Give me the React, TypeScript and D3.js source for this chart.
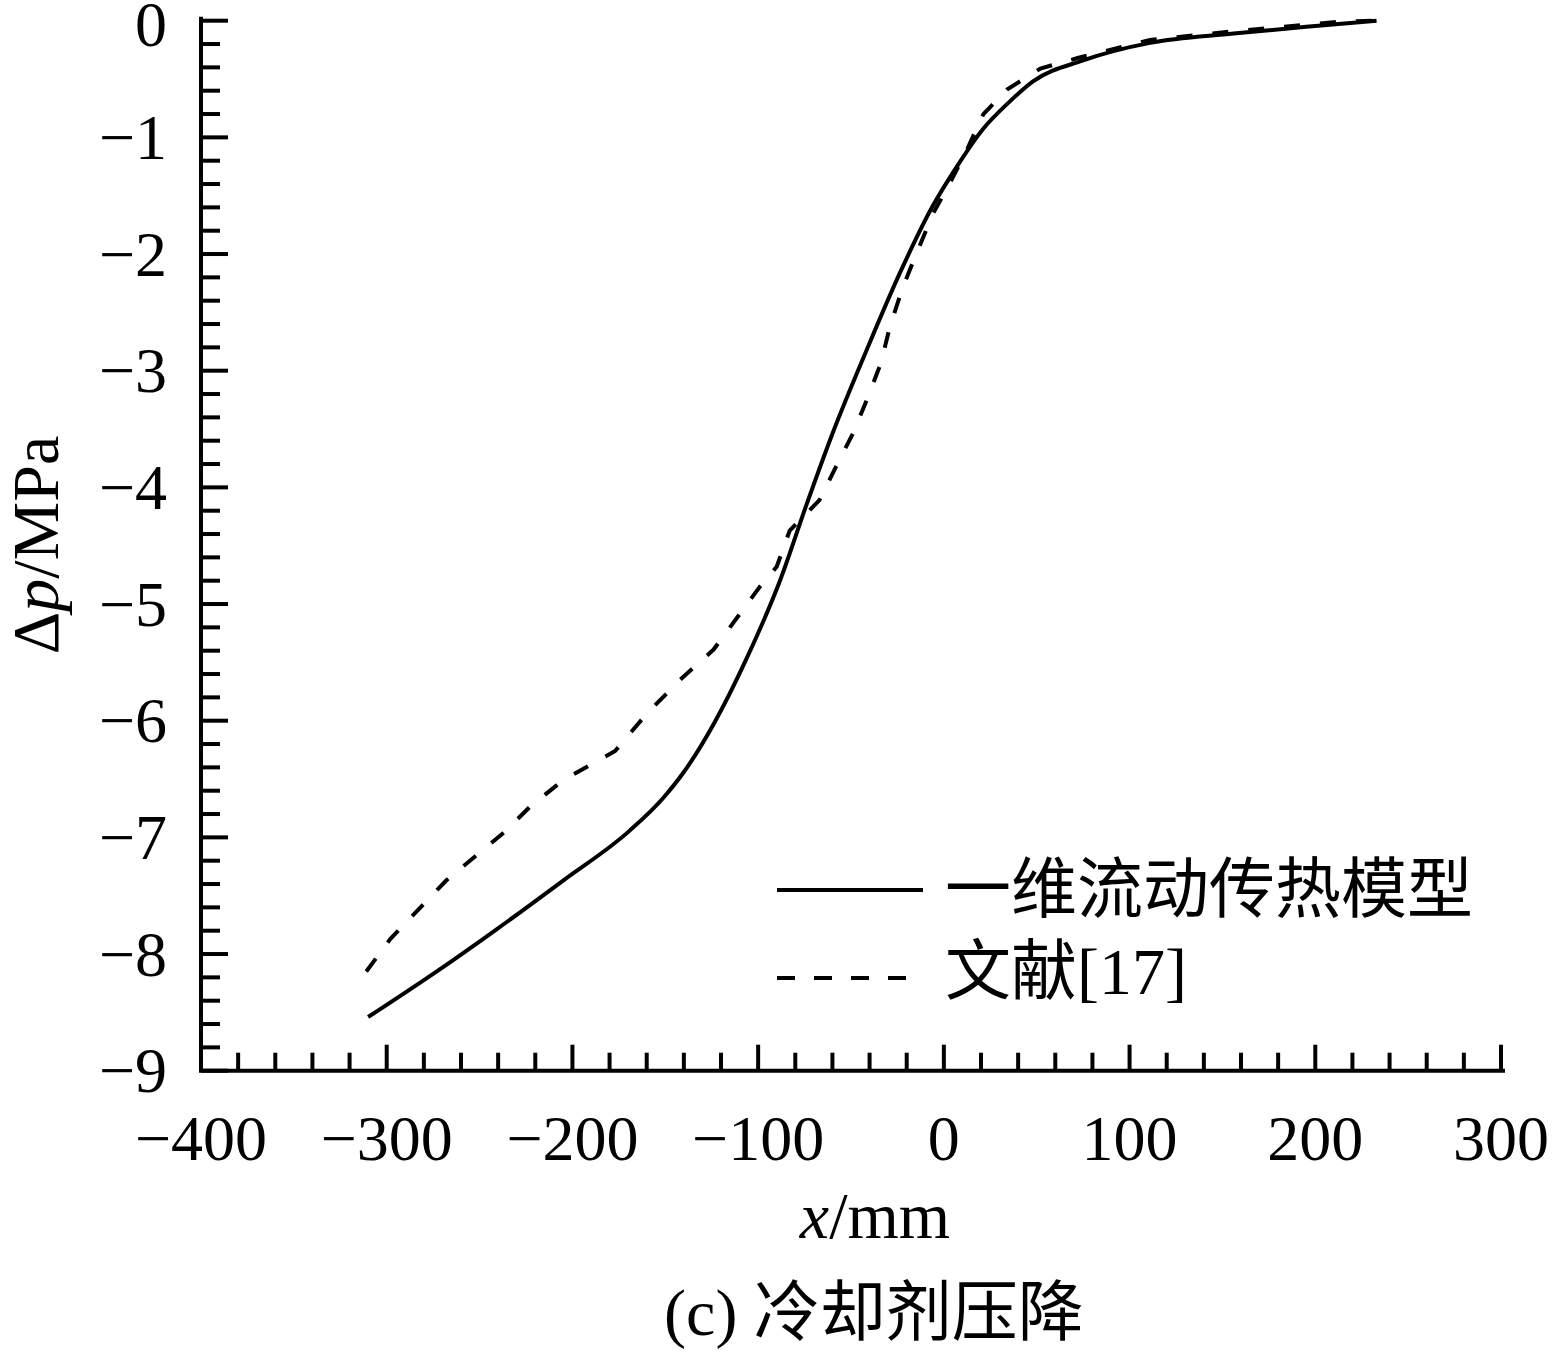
import React from "react";
import * as d3 from "d3";

// model curve (一维流动传热模型)
const modelX = [-310, -275, -241, -205, -169, -151, -140, -124, -106, -88, -74, -60, -41.5, -23.6, -5.7, 5, 21, 35, 48, 75, 111, 156, 200, 233];
const modelY = [-8.54, -8.17, -7.79, -7.37, -6.94, -6.66, -6.44, -6.03, -5.46, -4.79, -4.15, -3.54, -2.82, -2.16, -1.58, -1.3, -0.93, -0.7, -0.52, -0.34, -0.19, -0.11, -0.045, 0];

// literature curve (文献[17])
const refX = [-311, -298, -268, -237, -223, -205, -177, -160, -142, -124, -99, -90, -83, -67, -58, -49, -41.5, -34, -29, -22, -14.6, -5.7, 3.3, 12.3, 21.3, 34, 52, 72, 111, 156, 212, 233];
const refY = [-8.15, -7.87, -7.37, -6.96, -6.74, -6.51, -6.26, -5.94, -5.65, -5.39, -4.85, -4.68, -4.37, -4.11, -3.82, -3.54, -3.25, -2.94, -2.62, -2.28, -1.99, -1.65, -1.39, -1.11, -0.8, -0.59, -0.41, -0.32, -0.165, -0.09, -0.01, 0];

const xTicks = [-400, -300, -200, -100, 0, 100, 200, 300];
const yTicks = [0, -1, -2, -3, -4, -5, -6, -7, -8, -9];
const legendNames = ["一维流动传热模型", "文献[17]"];

const W = 1555;
const H = 1352;
const serif = "'Liberation Serif', 'Times New Roman', serif";
const cjk = "'Liberation Serif', 'Noto Sans CJK SC', serif";

const App: React.FC = () => {
    const x = d3.scaleLinear().domain([-400, 300]).range([201, 1501]);
    const y = d3.scaleLinear().domain([-9, 0]).range([1070.7, 20.7]);

    const modelPath = d3
        .line<[number, number]>()
        .x((d) => x(d[0]))
        .y((d) => y(d[1]))
        .curve(d3.curveMonotoneX)(modelX.map((v, i) => [v, modelY[i]]) as [number, number][]);
    const refPath = d3
        .line<[number, number]>()
        .x((d) => x(d[0]))
        .y((d) => y(d[1]))
        .curve(d3.curveLinear)(refX.map((v, i) => [v, refY[i]]) as [number, number][]);

    const xMinor = d3.range(-400, 301, 20).filter((v) => v % 100 !== 0);
    const yMinor = d3.range(0, 46, 1).map((v) => -v * 0.2).filter((v, i) => i % 5 !== 0);

    const x0 = x(-400);
    const y0 = y(-9);

    return (
        <div>
            <style>{`body{margin:0}`}</style>
            <svg width={W} height={H} style={{ display: "block", background: "#fff" }}>
                {/* axes */}
                <g stroke="#000" strokeWidth={4} fill="none">
                    <path d={`M${x0},${y(0) - 2}V${y0}H${x(300) + 2}`} strokeLinecap="square" />
                    {yTicks.map((t) => (
                        <line key={"ym" + t} x1={x0} x2={x0 + 27} y1={y(t)} y2={y(t)} />
                    ))}
                    {yMinor.map((t) => (
                        <line key={"yn" + t} x1={x0} x2={x0 + 19} y1={y(t)} y2={y(t)} />
                    ))}
                    {xTicks.map((t) => (
                        <line key={"xm" + t} x1={x(t)} x2={x(t)} y1={y0} y2={y0 - 26} />
                    ))}
                    {xMinor.map((t) => (
                        <line key={"xn" + t} x1={x(t)} x2={x(t)} y1={y0} y2={y0 - 18} />
                    ))}
                </g>

                {/* tick labels */}
                <g fontFamily={serif} fontSize={64} fill="#000">
                    {yTicks.map((t) => (
                        <text key={"yl" + t} x={167} y={t === 0 ? y(t) + 4 : y(t)} dy="0.34em" textAnchor="end">
                            {t === 0 ? "0" : "\u2212" + Math.abs(t)}
                        </text>
                    ))}
                    {xTicks.map((t) => (
                        <text key={"xl" + t} x={x(t)} y={1160} textAnchor="middle">
                            {t < 0 ? "\u2212" + Math.abs(t) : String(t)}
                        </text>
                    ))}
                </g>

                {/* axis titles */}
                <text x={875} y={1238} fontFamily={serif} fontSize={66} textAnchor="middle">
                    <tspan fontStyle="italic">x</tspan>/mm
                </text>
                <text
                    transform="translate(58,545) rotate(-90)"
                    fontFamily={serif}
                    fontSize={66}
                    textAnchor="middle"
                >
                    Δ<tspan fontStyle="italic">p</tspan>/MPa
                </text>
                <text x={874} y={1335} fontFamily={cjk} fontSize={66} textAnchor="middle">
                    (c) 冷却剂压降
                </text>

                {/* curves */}
                <path d={modelPath ?? ""} fill="none" stroke="#000" strokeWidth={4} />
                <path d={refPath ?? ""} fill="none" stroke="#000" strokeWidth={4} strokeDasharray="16,20" />

                {/* legend */}
                <g>
                    <line x1={777} x2={923} y1={890} y2={890} stroke="#000" strokeWidth={4} />
                    <line x1={777} x2={910} y1={978} y2={978} stroke="#000" strokeWidth={4} strokeDasharray="18,19" />
                    <text x={945} y={912} fontFamily={cjk} fontSize={66}>
                        {legendNames[0]}
                    </text>
                    <text x={945} y={994} fontFamily={cjk} fontSize={66}>
                        {legendNames[1]}
                    </text>
                </g>
            </svg>
        </div>
    );
};

export default App;
